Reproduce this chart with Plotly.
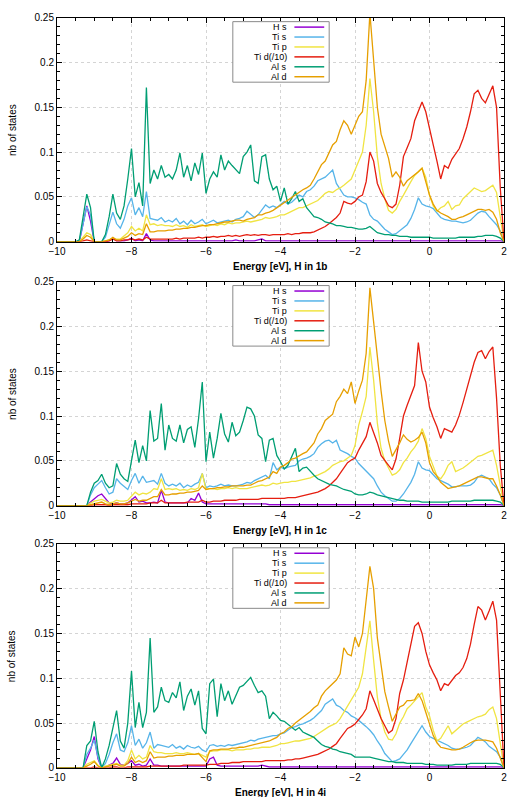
import plotly.graph_objects as go

# Energy grid (eV)
ENERGY = [round(-10 + 0.1 * i, 1) for i in range(121)]

# Projected DOS values, in units of 1e-3 states (rows = 1 eV each)
# ---------------- H in 1b ----------------
HS_1B = [0,0,0,0,0,0,0,20,40,23,
         0,0,0,0,1,4,1,1,1,2,
         4,1,2,1,9,2,1,1,1,1,
         1,1,1,1,1,1,1,1,1,1,
         1,1,1,1,1,1,1,1,2,1,
         1,1,1,1,2,3,1,1,1,1,
         1,1,1,1,1,1,1,1,1,1,
         1,1,1,1,1,1,1,1,1,1,
         1,1,1,1,1,1,1,1,1,1,
         1,1,1,1,1,1,1,1,1,1,
         1,1,1,1,1,1,1,1,1,1,
         1,1,1,1,1,1,1,1,1,1,
         0]
TIS_1B = [0,0,0,0,0,0,1,22,39,30,
          0,0,0,5,18,33,20,15,25,40,
          49,30,38,28,56,26,25,24,27,22,
          24,22,26,20,23,19,24,20,22,25,
          20,22,24,21,22,23,24,22,25,26,
          28,34,30,27,30,35,41,38,40,38,
          42,45,42,44,48,52,50,56,58,62,
          68,70,72,76,80,65,58,52,50,50,
          49,47,44,42,30,25,23,18,14,11,
          8,9,12,15,19,26,36,49,42,40,
          39,37,32,27,25,24,23,23,22,21,
          22,24,28,32,34,33,28,24,19,12,
          0]
TIP_1B = [0,0,0,0,0,0,0,5,10,8,
          0,0,0,1,2,4,3,3,6,10,
          17,12,15,12,30,19,20,18,19,18,
          18,17,19,17,18,16,19,17,18,19,
          17,18,19,18,20,19,21,20,21,21,
          22,23,22,23,24,25,27,26,27,28,
          30,30,32,34,36,38,38,40,42,44,
          46,50,54,56,55,58,60,63,66,70,
          80,90,100,130,182,145,95,65,48,35,
          32,36,45,52,60,67,74,78,82,72,
          52,40,34,38,40,45,36,40,41,48,
          52,55,60,58,56,57,60,63,55,25,
          0]
TID_1B = [0,0,0,0,0,0,0,1,2,1,
          0,0,0,0,1,3,1,1,2,2,
          3,2,3,2,5,3,3,3,3,3,
          3,3,4,3,4,4,4,4,5,4,
          5,5,6,5,6,6,7,6,7,6,
          7,8,7,8,7,8,8,7,8,8,
          8,8,9,8,9,9,10,10,10,11,
          13,15,17,20,23,27,32,45,43,42,
          45,50,52,67,100,90,65,55,48,40,
          38,42,63,95,105,115,135,145,156,145,
          125,108,90,70,85,82,92,98,104,115,
          128,145,165,169,160,155,165,174,150,60,
          0]
ALS_1B = [0,0,0,0,0,0,2,30,53,38,
          0,0,0,8,28,53,32,25,40,70,
          104,50,66,40,172,65,80,70,85,72,
          75,70,80,99,72,85,68,88,75,99,
          54,70,78,72,97,80,90,85,80,76,
          95,100,108,68,65,95,97,70,58,62,
          45,60,42,48,56,45,48,38,33,28,
          27,25,22,21,20,18,18,17,16,16,
          15,14,14,15,17,13,10,9,8,8,
          7,7,6,6,6,5,5,5,5,5,
          5,4,4,4,4,4,4,4,5,5,
          5,5,5,6,6,7,7,7,6,4,
          0]
ALD_1B = [0,0,0,0,0,0,0,3,7,5,
          0,0,0,1,2,5,2,2,4,6,
          10,7,9,8,20,11,11,12,12,12,
          13,13,14,14,15,15,16,16,17,18,
          18,19,19,20,21,22,22,23,24,24,
          23,25,26,27,30,30,32,33,35,38,
          41,43,46,50,52,55,58,60,63,70,
          78,86,90,100,108,112,125,135,130,120,
          130,140,145,180,255,200,150,120,105,93,
          72,78,72,62,68,71,75,78,82,68,
          52,42,35,32,30,28,25,25,27,28,
          30,32,34,36,36,35,36,33,25,10,
          0]

# ---------------- H in 1c ----------------
HS_1C = [0,0,0,0,0,0,0,0,0,4,
         8,11,13,8,3,2,3,2,2,3,
         6,10,4,5,3,3,4,3,17,4,
         3,3,3,3,3,3,8,6,14,4,
         2,2,2,2,2,2,2,2,2,2,
         2,2,2,2,2,2,2,1,1,1,
         1,1,1,1,1,1,1,1,1,1,
         1,1,1,1,1,1,1,1,1,1,
         1,1,1,1,1,1,1,1,1,1,
         1,1,1,1,1,1,1,1,1,1,
         1,1,1,1,1,1,1,1,1,1,
         1,1,1,1,1,1,1,1,1,1,
         0]
TIS_1C = [0,0,0,0,0,0,0,0,0,12,
          20,24,28,20,13,15,30,25,22,18,
          28,36,25,33,26,27,28,24,36,25,
          22,24,22,25,20,23,21,24,26,36,
          20,22,21,22,24,22,23,22,22,23,
          24,26,25,28,30,32,34,30,48,40,
          43,41,43,44,45,50,52,53,55,58,
          65,69,72,73,70,73,62,60,58,55,
          53,47,43,38,34,30,22,15,11,8,
          5,5,8,13,19,26,35,49,42,40,
          39,35,30,28,26,24,21,21,22,22,
          22,23,26,32,34,32,30,24,20,12,
          0]
TIP_1C = [0,0,0,0,0,0,0,0,0,3,
          5,6,7,5,3,4,6,5,5,6,
          10,15,12,14,13,15,19,18,30,18,
          19,18,19,17,18,17,19,18,20,36,
          18,19,19,18,19,19,20,19,20,19,
          19,19,20,21,22,23,22,23,25,24,
          25,26,26,27,27,28,29,30,31,33,
          34,36,38,41,45,47,49,50,53,56,
          67,90,105,122,177,140,92,64,50,42,
          34,36,40,48,53,60,65,72,86,75,
          55,44,33,30,36,45,49,38,40,42,
          45,48,52,55,56,58,60,62,45,22,
          0]
TID_1C = [0,0,0,0,0,0,0,0,0,0,
          1,1,1,1,0,1,1,1,1,1,
          2,2,2,2,2,3,3,3,6,3,
          3,3,3,3,3,4,4,4,4,6,
          4,4,5,5,5,6,6,6,6,7,
          7,7,7,7,7,8,8,8,8,8,
          8,8,9,9,9,10,11,12,13,14,
          15,17,19,22,26,30,36,42,48,51,
          53,62,70,77,93,82,70,56,50,45,
          40,52,75,100,112,122,134,182,150,138,
          110,98,88,75,86,84,82,90,101,115,
          130,145,160,171,173,164,172,177,120,45,
          0]
ALS_1C = [0,0,0,0,0,0,0,0,0,15,
          25,28,35,25,20,22,47,35,30,27,
          50,73,48,67,50,106,72,75,114,62,
          90,75,72,90,70,85,88,65,97,138,
          49,82,53,75,103,80,71,93,78,82,
          95,110,108,100,79,75,49,73,75,56,
          49,41,45,55,64,38,42,43,38,34,
          30,28,26,24,23,22,20,18,17,16,
          13,12,12,13,15,14,12,11,10,9,
          8,7,6,6,5,5,5,5,4,4,
          4,4,4,4,4,4,5,5,5,5,
          5,5,6,6,6,6,6,6,5,4,
          0]
ALD_1C = [0,0,0,0,0,0,0,0,0,1,
          2,3,4,2,1,2,3,2,2,3,
          5,7,5,6,6,8,10,10,18,12,
          12,13,13,14,14,15,15,16,17,22,
          18,19,19,20,20,21,21,22,22,22,
          22,23,23,25,27,28,30,32,38,36,
          43,45,48,52,53,56,58,60,65,70,
          80,86,95,98,102,116,122,130,125,138,
          114,128,140,170,243,205,165,128,95,72,
          55,62,70,79,74,71,73,76,82,70,
          48,38,33,26,22,19,20,21,22,24,
          26,28,30,32,32,31,30,30,22,12,
          0]

# ---------------- H in 4i ----------------
HS_4I = [0,0,0,0,0,0,0,0,10,20,
         35,10,0,1,3,5,11,4,3,5,
         8,3,4,2,3,10,3,3,2,2,
         2,2,2,2,2,2,2,2,2,2,
         2,10,12,3,2,2,2,2,2,2,
         2,2,2,2,2,3,2,1,1,1,
         1,1,1,1,1,1,1,1,1,1,
         1,1,1,1,1,1,1,1,1,1,
         1,1,1,1,1,1,1,1,1,1,
         1,1,1,1,1,1,1,1,1,1,
         1,1,1,1,1,1,1,1,1,1,
         1,1,1,1,1,1,1,1,1,1,
         0]
TIS_4I = [0,0,0,0,0,0,0,0,15,22,
          31,12,0,5,15,28,38,20,18,28,
          47,25,32,22,28,40,22,26,25,24,
          23,26,22,24,21,25,23,22,24,20,
          18,25,26,24,25,24,26,25,26,27,
          28,29,31,30,32,33,34,35,36,36,
          38,39,42,45,46,48,49,51,53,56,
          60,64,71,74,77,70,68,64,62,58,
          56,53,50,46,42,37,30,24,16,11,
          7,8,10,15,20,27,34,40,47,40,
          35,33,31,29,27,25,22,21,21,22,
          23,25,30,34,32,29,24,21,18,12,
          0]
TIP_4I = [0,0,0,0,0,0,0,0,4,6,
          8,3,0,2,3,4,5,3,3,8,
          20,10,14,10,12,25,18,17,17,16,
          16,16,17,16,16,17,16,15,16,14,
          12,18,19,19,20,20,20,19,20,20,
          20,21,21,22,22,23,23,23,24,25,
          27,27,28,29,30,30,31,32,33,35,
          38,41,44,46,48,50,55,62,68,76,
          82,90,105,135,164,120,79,55,40,32,
          31,38,50,57,66,70,75,80,84,68,
          58,42,30,33,40,47,38,42,45,49,
          51,53,55,57,58,60,65,68,55,28,
          0]
TID_4I = [0,0,0,0,0,0,0,0,0,0,
          1,0,0,0,0,1,1,0,0,1,
          1,1,1,1,1,2,2,2,2,2,
          2,2,2,2,3,3,3,3,3,3,
          3,4,4,4,5,5,5,6,6,6,
          7,7,7,7,7,7,8,8,8,8,
          8,8,9,9,10,10,11,12,13,14,
          15,17,19,21,24,27,33,39,44,46,
          49,54,59,66,86,76,65,55,47,39,
          42,55,83,98,118,140,158,162,150,130,
          115,106,98,86,94,92,98,103,106,112,
          122,138,160,180,176,165,175,186,165,80,
          0]
ALS_4I = [0,0,0,0,0,0,0,0,25,30,
          52,18,0,10,25,45,64,30,22,50,
          108,45,73,45,62,145,62,68,90,75,
          73,84,78,96,64,80,88,70,86,44,
          38,94,99,57,94,75,86,71,80,90,
          92,97,101,92,84,86,80,55,62,58,
          53,52,49,45,42,45,40,38,36,34,
          30,26,24,23,21,20,18,17,16,15,
          12,12,12,12,12,11,10,9,8,7,
          7,6,6,6,5,5,5,5,5,4,
          4,4,3,3,3,3,3,4,4,4,
          4,5,5,5,5,5,5,5,5,4,
          0]
ALD_4I = [0,0,0,0,0,0,0,0,2,4,
          7,2,0,1,2,3,4,2,2,5,
          12,6,8,6,8,18,11,12,12,12,
          13,13,14,14,14,15,15,15,16,12,
          7,19,20,20,21,21,21,22,22,23,
          23,24,25,26,27,28,29,30,32,34,
          38,40,44,46,50,53,56,60,63,67,
          70,80,86,90,94,98,105,134,127,125,
          146,135,150,190,225,200,145,115,85,68,
          52,60,68,70,75,75,76,83,75,62,
          49,36,28,23,22,21,20,20,21,23,
          26,28,30,31,31,31,30,29,22,12,
          0]

SERIES_NAMES = ["H s", "Ti s", "Ti p", "Ti d(/10)", "Al s", "Al d"]
SERIES_COLORS = ["#9400D3", "#56B4E9", "#F0E442", "#E51E10", "#009E73", "#E69F00"]
PANELS = [
    ("Energy [eV], H in 1b", [HS_1B, TIS_1B, TIP_1B, TID_1B, ALS_1B, ALD_1B]),
    ("Energy [eV], H in 1c", [HS_1C, TIS_1C, TIP_1C, TID_1C, ALS_1C, ALD_1C]),
    ("Energy [eV], H in 4i", [HS_4I, TIS_4I, TIP_4I, TID_4I, ALS_4I, ALD_4I]),
]
for _, ser in PANELS:
    for s in ser:
        assert len(s) == len(ENERGY), len(s)

# ---------------- layout geometry ----------------
W, H = 517, 797
ML, MR, MT, MB = 57, 10, 10, 20
PW, PH = W - ML - MR, H - MT - MB
PANEL_TOPS = [11.7, 277.7, 542.0]
PANEL_H = 225.8
FONT = "Liberation Sans, Arial, sans-serif"


def px_x(px):
    return (px - ML) / PW


def px_y(py):
    return 1 - (py - MT) / PH


fig = go.Figure()
layout = dict(
    width=W, height=H,
    margin=dict(l=ML, r=MR, t=MT, b=MB),
    paper_bgcolor="white", plot_bgcolor="white",
    showlegend=False,
    font=dict(family=FONT, size=10, color="black"),
)
shapes, annotations = [], []

for k, (xtitle, series) in enumerate(PANELS):
    idx = "" if k == 0 else str(k + 1)
    top = PANEL_TOPS[k]
    bottom = top + PANEL_H
    for name, color, vals in zip(SERIES_NAMES, SERIES_COLORS, series):
        fig.add_trace(go.Scatter(
            x=ENERGY, y=[v / 1000 for v in vals], mode="lines", name=name,
            line=dict(color=color, width=1.3),
            xaxis="x" + idx, yaxis="y" + idx, hoverinfo="skip"))
    common = dict(
        ticks="inside", ticklen=5, tickwidth=1, tickcolor="black",
        showline=True, linecolor="black", linewidth=1, mirror="allticks",
        showgrid=True, gridcolor="#d4d4d4", griddash="dot", gridwidth=1,
        zeroline=False, tickfont=dict(family=FONT, size=10, color="black"),
    )
    layout["xaxis" + idx] = dict(
        common, domain=[0, 1], range=[-10, 2], tick0=-10, dtick=2,
        anchor="y" + idx,
        minor=dict(dtick=0.5, ticks="inside", ticklen=3, tickcolor="black", showgrid=False))
    layout["yaxis" + idx] = dict(
        common, domain=[px_y(bottom), px_y(top)], range=[0, 0.25], tick0=0, dtick=0.05,
        anchor="x" + idx,
        minor=dict(dtick=0.01, ticks="inside", ticklen=3, tickcolor="black", showgrid=False))

    # axis titles
    annotations.append(dict(
        text="<b>" + xtitle + "</b>", xref="paper", yref="paper",
        x=px_x(281.5), y=px_y(bottom + 25), xanchor="center", yanchor="middle",
        showarrow=False, font=dict(family=FONT, size=10, color="black")))
    annotations.append(dict(
        text="nb of states", xref="paper", yref="paper", textangle=-90,
        x=px_x(12), y=px_y(top + PANEL_H / 2), xanchor="center", yanchor="middle",
        showarrow=False, font=dict(family=FONT, size=10, color="black")))

    # key box (gnuplot style: label then line sample)
    shapes.append(dict(
        type="rect", xref="paper", yref="paper",
        x0=px_x(234), x1=px_x(331), y0=px_y(top + 65), y1=px_y(top + 4),
        line=dict(color="#8a8a8a", width=1), fillcolor="white", layer="above"))
    for i, (name, color) in enumerate(zip(SERIES_NAMES, SERIES_COLORS)):
        yy = px_y(top + 9.5 + 10 * i)
        annotations.append(dict(
            text=name, xref="paper", yref="paper", x=px_x(290), y=yy,
            xanchor="right", yanchor="middle", showarrow=False, borderpad=0,
            font=dict(family=FONT, size=9, color="black")))
        shapes.append(dict(
            type="line", xref="paper", yref="paper",
            x0=px_x(296), x1=px_x(326), y0=yy, y1=yy,
            line=dict(color=color, width=1.5), layer="above"))

layout["shapes"] = shapes
layout["annotations"] = annotations
fig.update_layout(**layout)
fig.write_html("out.html")
